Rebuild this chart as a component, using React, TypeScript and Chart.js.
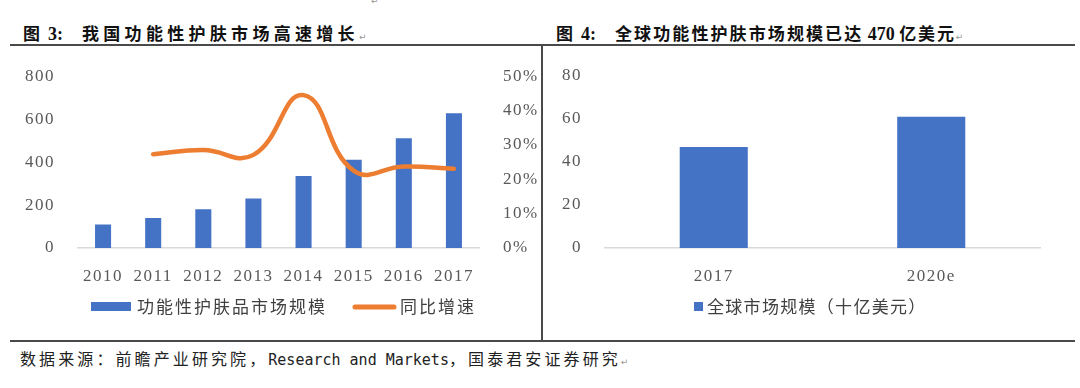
import React, { useEffect, useRef } from "react";
import { Chart, registerables } from "chart.js";

Chart.register(...registerables);

// ---- Data ----
const years = ["2010", "2011", "2012", "2013", "2014", "2015", "2016", "2017"];
const marketSize = [110, 140, 181, 230, 335, 411, 511, 628];
const growthRate = [null, 27.3, 28.5, 27.1, 44.5, 22.5, 23.7, 23.1];
const globalCats = ["2017", "2020e"];
const globalSize = [47, 61];

const leftSeriesName = "功能性护肤品市场规模";
const lineSeriesName = "同比增速";
const rightSeriesName = "全球市场规模（十亿美元）";

const BLUE = "#4472C4";
const ORANGE = "#ED7D31";
const TICK_COLOR = "#595959";
const TICK_FONT = { family: '"Liberation Serif", "Times New Roman", serif', size: 17 };
const CJK = '"Noto Sans CJK SC", sans-serif';

function setSpacing(ctx: any, v: string) {
  if ("letterSpacing" in ctx) ctx.letterSpacing = v;
}

const spacingPlugin = {
  id: "tickSpacing",
  beforeDraw(chart: any) {
    setSpacing(chart.ctx, "1.5px");
  },
};

const leftLegendPlugin = {
  id: "leftLegend",
  afterDraw(chart: any) {
    const ctx = chart.ctx;
    ctx.save();
    ctx.fillStyle = BLUE;
    ctx.fillRect(81, 252, 40, 9);
    ctx.strokeStyle = ORANGE;
    ctx.lineWidth = 5;
    ctx.lineCap = "round";
    ctx.beginPath();
    ctx.moveTo(345, 257);
    ctx.lineTo(384, 257);
    ctx.stroke();
    ctx.fillStyle = "#404040";
    ctx.font = "17px " + CJK;
    ctx.textBaseline = "middle";
    setSpacing(ctx, "2px");
    ctx.fillText(chart.data.datasets[0].label, 127, 257);
    ctx.fillText(chart.data.datasets[1].label, 390, 257);
    ctx.restore();
  },
};

const rightLegendPlugin = {
  id: "rightLegend",
  afterDraw(chart: any) {
    const ctx = chart.ctx;
    ctx.save();
    ctx.fillStyle = BLUE;
    ctx.fillRect(149, 252, 9, 9);
    ctx.fillStyle = "#404040";
    ctx.font = "17px " + CJK;
    ctx.textBaseline = "middle";
    setSpacing(ctx, "1.3px");
    ctx.fillText(chart.data.datasets[0].label, 162, 257);
    ctx.restore();
  },
};

function LeftChart() {
  const ref = useRef<HTMLCanvasElement>(null);
  useEffect(() => {
    const chart = new Chart(ref.current as HTMLCanvasElement, {
      type: "bar",
      data: {
        labels: years,
        datasets: [
          {
            type: "bar",
            label: leftSeriesName,
            data: marketSize,
            yAxisID: "y",
            backgroundColor: BLUE,
            categoryPercentage: 1,
            barPercentage: 0.32,
            order: 1,
          },
          {
            type: "line",
            label: lineSeriesName,
            data: growthRate as any,
            yAxisID: "y1",
            borderColor: ORANGE,
            backgroundColor: ORANGE,
            borderWidth: 4.5,
            borderCapStyle: "round",
            tension: 0.45,
            pointRadius: 0,
            order: 0,
          } as any,
        ] as any,
      },
      options: {
        animation: false,
        responsive: false,
        layout: { padding: { top: 25, bottom: 51, left: 0, right: 0 } },
        plugins: { legend: { display: false }, tooltip: { enabled: false } },
        scales: {
          x: {
            grid: { display: false },
            border: { display: true, color: "#D9D9D9", width: 1.5 },
            ticks: { color: TICK_COLOR, font: TICK_FONT, padding: 10, maxRotation: 0 },
            afterFit(s: any) { s.height = 36; },
          },
          y: {
            position: "left",
            min: 0,
            max: 800,
            grid: { display: false },
            border: { display: false },
            ticks: { stepSize: 200, color: TICK_COLOR, font: TICK_FONT, padding: 15 },
            afterFit(s: any) { s.width = 68; },
          },
          y1: {
            position: "right",
            min: 0,
            max: 50,
            grid: { display: false },
            border: { display: false },
            ticks: {
              stepSize: 10,
              color: TICK_COLOR,
              font: TICK_FONT,
              padding: 16,
              callback: (v: any) => v + "%",
            },
            afterFit(s: any) { s.width = 61; },
          },
        },
      },
      plugins: [spacingPlugin, leftLegendPlugin],
    });
    return () => chart.destroy();
  }, []);
  return (
    <canvas
      ref={ref}
      width={530}
      height={285}
      style={{ position: "absolute", left: 10, top: 50, width: 530, height: 285 }}
    />
  );
}

function RightChart() {
  const ref = useRef<HTMLCanvasElement>(null);
  useEffect(() => {
    const chart = new Chart(ref.current as HTMLCanvasElement, {
      type: "bar",
      data: {
        labels: globalCats,
        datasets: [
          {
            label: rightSeriesName,
            data: globalSize,
            backgroundColor: BLUE,
            categoryPercentage: 1,
            barPercentage: 0.313,
          },
        ],
      },
      options: {
        animation: false,
        responsive: false,
        layout: { padding: { top: 26, bottom: 51, left: 0, right: 35 } },
        plugins: { legend: { display: false }, tooltip: { enabled: false } },
        scales: {
          x: {
            grid: { display: false },
            border: { display: true, color: "#D9D9D9", width: 1.5 },
            ticks: { color: TICK_COLOR, font: TICK_FONT, padding: 10, maxRotation: 0 },
            afterFit(s: any) { s.height = 36; },
          },
          y: {
            min: 0,
            max: 80,
            grid: { display: false },
            border: { display: false },
            ticks: { stepSize: 20, color: TICK_COLOR, font: TICK_FONT, padding: 15 },
            afterFit(s: any) { s.width = 60; },
          },
        },
      },
      plugins: [spacingPlugin, rightLegendPlugin],
    });
    return () => chart.destroy();
  }, []);
  return (
    <canvas
      ref={ref}
      width={530}
      height={285}
      style={{ position: "absolute", left: 545, top: 50, width: 530, height: 285 }}
    />
  );
}

const mark: React.CSSProperties = {
  fontSize: 9,
  color: "#999",
  fontFamily: '"DejaVu Sans", sans-serif',
  letterSpacing: 0,
  fontWeight: 400,
};

const serifNum: React.CSSProperties = {
  fontFamily: '"Liberation Serif", serif',
  fontSize: 18,
  letterSpacing: 0,
};

export default function App() {
  const titleBase: React.CSSProperties = {
    position: "absolute",
    top: 22,
    fontFamily: CJK,
    fontWeight: 700,
    fontSize: 17,
    color: "#111",
    whiteSpace: "nowrap",
    lineHeight: "22px",
  };
  return (
    <div style={{ position: "absolute", left: 0, top: 0, width: 1080, height: 388, background: "#fff", overflow: "hidden" }}>
      {/* small paragraph mark at top */}
      <div style={{ position: "absolute", left: 371, top: -4, ...mark }}>↵</div>

      <div style={{ ...titleBase, left: 23 }}>
        <span>图</span>
        <span style={{ ...serifNum, marginLeft: 8 }}>3:</span>
        <span style={{ letterSpacing: "4.3px", marginLeft: 19 }}>我国功能性护肤市场高速增长</span>
        <span style={mark}>↵</span>
      </div>
      <div style={{ ...titleBase, left: 556 }}>
        <span>图</span>
        <span style={{ ...serifNum, marginLeft: 8 }}>4:</span>
        <span style={{ letterSpacing: "2.1px", marginLeft: 19 }}>全球功能性护肤市场规模已达</span>
        <span style={serifNum}> 470 </span>
        <span style={{ letterSpacing: "1.8px" }}>亿美元</span>
        <span style={mark}>↵</span>
      </div>

      {/* frame lines */}
      <div style={{ position: "absolute", left: 10, top: 44, width: 1065, height: 2, background: "#4a4a4a" }} />
      <div style={{ position: "absolute", left: 541, top: 45, width: 2, height: 296, background: "#4a4a4a" }} />
      <div style={{ position: "absolute", left: 10, top: 340, width: 1065, height: 2, background: "#4a4a4a" }} />

      <LeftChart />
      <RightChart />

      <div
        style={{
          position: "absolute",
          left: 20,
          top: 347,
          fontSize: 16,
          lineHeight: "22px",
          color: "#222",
          whiteSpace: "nowrap",
          fontFamily: CJK,
        }}
      >
        <span style={{ letterSpacing: "3.1px" }}>数据来源：前瞻产业研究院，</span>
        <span style={{ fontFamily: '"DejaVu Sans Mono", monospace', fontSize: 15, letterSpacing: 0 }}>Research and Markets</span>
        <span style={{ letterSpacing: "3.1px" }}>，国泰君安证券研究</span>
        <span style={mark}>↵</span>
      </div>
    </div>
  );
}
